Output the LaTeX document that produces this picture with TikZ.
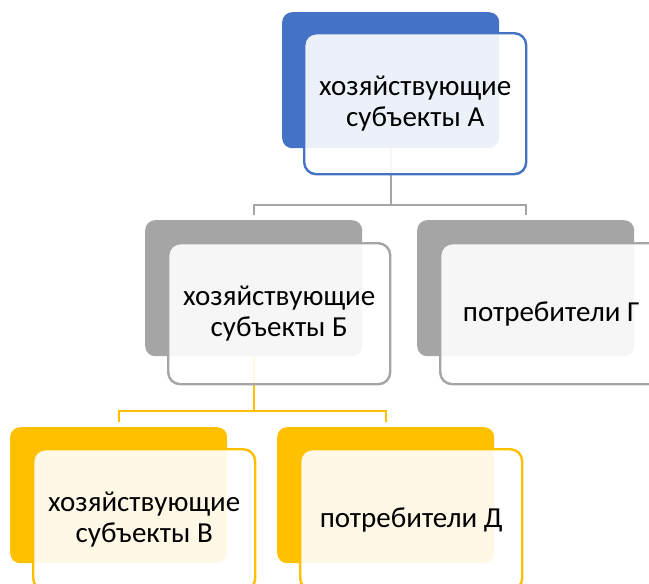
\documentclass[tikz,border=0pt]{standalone}
\usepackage{fontspec}
\setmainfont{Carlito}
\usetikzlibrary{positioning}
\definecolor{accA}{HTML}{4472C4}
\definecolor{accB}{HTML}{A5A5A5}
\definecolor{accC}{HTML}{FFC000}
\tikzset{
  backbox/.style={rectangle, rounded corners=10pt, minimum width=217pt, minimum height=136pt, anchor=north west, inner sep=0pt, draw=none},
  frontbox/.style={rectangle, rounded corners=12pt, minimum width=222pt, minimum height=141pt, anchor=north west, inner sep=0pt, line width=2.4pt, fill=white, fill opacity=0.9, text opacity=1, align=center, font=\fontsize{29}{31}\selectfont, text=black},
  conn/.style={line width=2.4pt}
}
\begin{document}
\begin{tikzpicture}[x=1pt,y=-1pt]
\useasboundingbox (0,0) rectangle (649,584);
\clip (0,0) rectangle (649,584);
% back boxes
\node[backbox, fill=accA] (Ab) at (282,12) {};
\node[backbox, fill=accB] (Bb) at (145,220) {};
\node[backbox, fill=accB] (Gb) at (417,220) {};
\node[backbox, fill=accC] (Vb) at (10,427) {};
\node[backbox, fill=accC] (Db) at (277,427) {};
% connector coordinates
\coordinate (A1) at (Ab.south |- 0,205);
\coordinate (B1) at (Bb.north |- 0,205);
\coordinate (G1) at (Gb.north |- 0,205);
\coordinate (B2) at (Bb.north |- 0,215);
\coordinate (G2) at (Gb.north |- 0,215);
\coordinate (C1) at (Bb.south |- 0,411);
\coordinate (V1) at (Vb.north |- 0,411);
\coordinate (D1) at (Db.north |- 0,411);
\coordinate (V2) at (Vb.north |- 0,422);
\coordinate (D2) at (Db.north |- 0,422);
\draw[conn, accB] (Ab.south) -- (A1);
\draw[conn, accB] (B2) -- (B1) -- (G1) -- (G2);
\draw[conn, accC] (Bb.south) -- (C1);
\draw[conn, accC] (V2) -- (V1) -- (D1) -- (D2);
% front boxes
\node[frontbox, draw=accA] (A) at (303,32) {хозяйствующие\\субъекты А};
\node[frontbox, draw=accB] (B) at (167,242) {хозяйствующие\\субъекты Б};
\node[frontbox, draw=accB] (G) at (439,242) {потребители Г};
\node[frontbox, draw=accC] (V) at (32,448) {хозяйствующие\\субъекты В};
\node[frontbox, draw=accC] (D) at (299,448) {потребители Д};
\end{tikzpicture}
\end{document}
